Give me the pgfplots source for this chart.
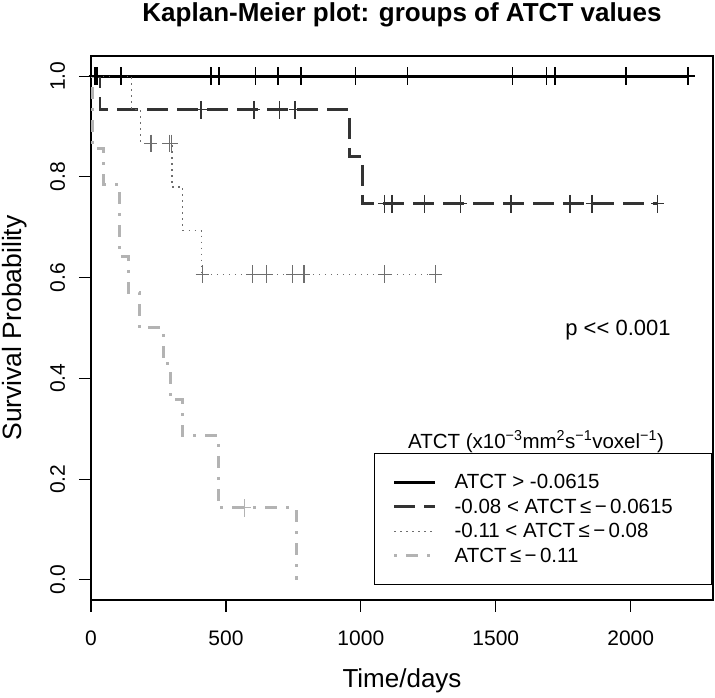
\documentclass[border=0pt]{standalone}
\usepackage{pgfplots}
\pgfplotsset{compat=1.18}
\usepackage{fontspec}
\setmainfont{Liberation Sans}

\definecolor{kmdark}{HTML}{333333}
\definecolor{kmmid}{HTML}{6E6E6E}
\definecolor{kmlight}{HTML}{B3B3B3}

\begin{document}
\begin{tikzpicture}
\path[use as bounding box] (-91pt,-98pt) rectangle (624pt,600pt);
\begin{axis}[
    at={(0,0)}, anchor=south west,
    scale only axis, width=622pt, height=544pt,
    xmin=0, xmax=2305, ymin=-0.04, ymax=1.04,
    xtick={0,500,1000,1500,2000},
    ytick={0,0.2,0.4,0.6,0.8,1},
    xtick pos=left, ytick pos=left,
    tick align=outside, major tick length=12pt,
    axis line style={line width=1.2pt},
    every tick/.style={black, line width=1.2pt},
    /pgf/number format/assume math mode=true,
    ticklabel style={font=\fontsize{21}{25}\selectfont},
    xticklabel style={anchor=base, /pgf/number format/set thousands separator={}},
    xticklabel shift=34pt,
    yticklabel style={rotate=90, anchor=base,
        /pgf/number format/.cd, fixed, fixed zerofill, precision=1},
    yticklabel shift=14pt,
    title={Kaplan-Meier plot: groups of ATCT values},
    title style={font=\bfseries\fontsize{26}{30}\selectfont, anchor=base,
        at={(axis description cs:0.5,1)}, yshift=28pt},
    xlabel={Time/days},
    xlabel style={font=\fontsize{26}{30}\selectfont, anchor=base,
        at={(axis description cs:0.5,0)}, yshift=-88pt},
    ylabel={Survival Probability},
    ylabel style={font=\fontsize{26.5}{30}\selectfont, anchor=base,
        at={([xshift=-69pt]axis description cs:0,0.5)}},
    legend style={at={(0.455,0.2702)}, anchor=north west,
        draw=black, line width=1.2pt,
        font=\fontsize{20.5}{24}\selectfont,
        inner xsep=18pt, inner ysep=20pt, row sep=7.5pt,
        /tikz/column sep=18pt,
        nodes={inner sep=0pt, text height=15pt, text depth=2pt}},
    legend cell align=left,
    legend image code/.code={\draw[#1] plot coordinates {(0pt,0pt) (41pt,0pt)};},
]
% step curves
\addplot[black, line width=3pt, const plot] coordinates {
    (0,1) (2213,1)
};
\addlegendentry{ATCT > -0.0615}
\addplot[kmdark, line width=2.8pt, const plot, dash pattern=on 21pt off 9pt] coordinates {
    (0,1) (33,0.9333) (957,0.84) (1005,0.7467) (2100,0.7467)
};
\addlegendentry{-0.08 < ATCT\,≤\,−\,0.0615}
\addplot[kmmid, line width=1.2pt, const plot, dash pattern=on 1.5pt off 4.5pt] coordinates {
    (0,1) (151,0.9333) (184,0.8667) (300,0.78) (340,0.6933) (410,0.6067) (1278,0.6067)
};
\addlegendentry{\makebox[239pt][l]{-0.11 < ATCT\,≤\,−\,0.08}}
\addplot[kmlight, line width=3pt, const plot, dash pattern=on 3pt off 9pt on 12pt off 9pt] coordinates {
    (0,1) (5,0.8571) (48,0.7857) (105,0.6429) (138,0.5714) (179,0.5) (268,0.4286)
    (293,0.3571) (340,0.2857) (472,0.1429) (760,0)
};
\addlegendentry{ATCT\,≤\,−\,0.11}
% censoring marks
\addplot[only marks, black, mark=+, mark size=6.5pt, forget plot,
    mark options={line width=1.4pt, yscale=1.35}] coordinates {
    (15,1) (22,1) (111,1) (445,1) (474,1) (610,1) (693,1) (778,1) (981,1)
    (1173,1) (1562,1) (1688,1) (1719,1) (1982,1) (2213,1)
};
\addplot[only marks, kmdark, mark=+, mark size=6.5pt, forget plot,
    mark options={line width=1.4pt, yscale=1.35}] coordinates {
    (408,0.9333) (604,0.9333) (698,0.9333) (756,0.9333)
    (1087,0.7467) (1116,0.7467) (1235,0.7467) (1370,0.7467) (1556,0.7467)
    (1775,0.7467) (1857,0.7467) (2100,0.7467)
};
\addplot[only marks, kmmid, mark=+, mark size=6.5pt, forget plot,
    mark options={line width=1.2pt, yscale=1.35}] coordinates {
    (222,0.8667) (290,0.8667) (299,0.8667)
    (412,0.6067) (599,0.6067) (651,0.6067) (747,0.6067) (789,0.6067)
    (1089,0.6067) (1278,0.6067)
};
\addplot[only marks, kmlight, mark=+, mark size=6.5pt, forget plot,
    mark options={line width=1.2pt, yscale=1.35}] coordinates {
    (568,0.1429)
};
\node[anchor=base, font=\fontsize{22}{26}\selectfont] at (axis cs:1953,0.486) {p <\kern0pt< 0.001};
\node[anchor=base, font=\fontsize{20.5}{24}\selectfont] at (axis description cs:0.7154,0.2789)
    {ATCT (x10\textsuperscript{−3}mm\textsuperscript{2}s\textsuperscript{−1}voxel\textsuperscript{−1})};
\end{axis}
\end{tikzpicture}
\end{document}
